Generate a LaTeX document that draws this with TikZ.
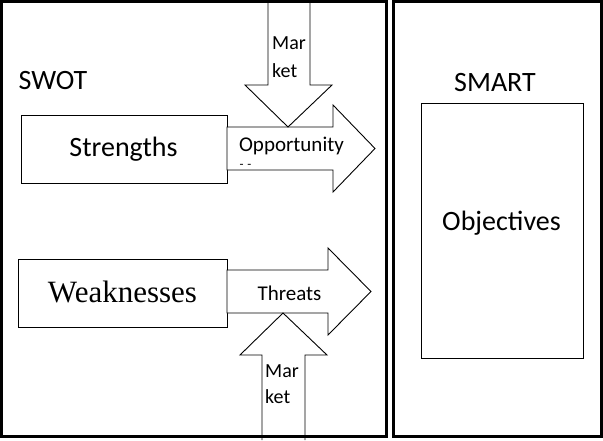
\documentclass[tikz,border=0pt]{standalone}
\usepackage{fontspec}
\setmainfont{Carlito}
\newfontfamily\seriffam{Liberation Serif}
\begin{document}
\begin{tikzpicture}[x=1pt,y=-1pt,
  outer/.style={draw=black,line width=3pt},
  box/.style={draw=black,line width=0.9pt,fill=white,inner sep=0pt},
  blockarrow/.style={draw=black,line width=0.9pt,fill=white,line join=miter},
  big/.style={font=\fontsize{28}{30}\selectfont,inner sep=0pt},
  mid/.style={font=\fontsize{21}{23}\selectfont,inner sep=0pt},
  small/.style={font=\fontsize{20}{22}\selectfont,inner sep=0pt},
  serifbig/.style={font=\seriffam\fontsize{31}{33}\selectfont,inner sep=0pt},
]
\useasboundingbox (0,0) rectangle (603,440);
\fill[white] (0,0) rectangle (603,440);

% boxes
\node[box, anchor=north west, minimum width=206pt, minimum height=68pt] (S) at (21,115) {};
\node[box, anchor=north west, minimum width=209pt, minimum height=68pt] (W) at (18,259) {};
\node[box, anchor=north west, minimum width=162pt, minimum height=255pt] (O) at (421,103) {};

% Opportunity arrow
\draw[blockarrow] (227,127) -- (333,127) -- (333,105) -- (375,148.5) -- (333,192) -- (333,170) -- (227,170) -- cycle;
% Market arrow (top)
\draw[blockarrow] (268,0) -- (268,85) -- (245,85) -- (288,127) -- (332,85) -- (310,85) -- (310,0);
% Threats arrow
\draw[blockarrow] (227,270) -- (328,270) -- (328,248) -- (371,291.5) -- (328,335) -- (328,313) -- (227,313) -- cycle;
% Market arrow (bottom)
\draw[blockarrow] (262,440) -- (262,355) -- (240,355) -- (283,313) -- (327,355) -- (305,355) -- (305,440);

% texts
\node[big, anchor=base] (swot) at (53,89) {SWOT};
\node[big, anchor=base] (smart) at (495,91) {SMART};
\node[big, anchor=base] (strtxt) at (123.5,156) {Strengths};
\node[serifbig, anchor=base] (weaktxt) at (122.5,302) {Weaknesses};
\node[big, anchor=base] (objtxt) at (501.5,230) {Objectives};
\node[mid, anchor=base] (opptxt) at (291.5,151) {Opportunity};
\node[font=\fontsize{13}{13}\selectfont, inner sep=0pt, anchor=base] (dash) at (245.5,168) {-\hspace{4pt}-};
\node[mid, anchor=base] (thrtxt) at (289.5,300) {Threats};
\node[small, anchor=base west] (mar1) at (272,49) {Mar};
\node[small, anchor=base west] (ket1) at (272,77) {ket};
\node[small, anchor=base west] (mar2) at (265,377) {Mar};
\node[small, anchor=base west] (ket2) at (265,403) {ket};

% outer frames
\draw[outer] (1.5,1.5) rectangle (386.5,436.5);
\draw[outer] (393.5,1.5) rectangle (601.5,436.5);
\end{tikzpicture}
\end{document}
